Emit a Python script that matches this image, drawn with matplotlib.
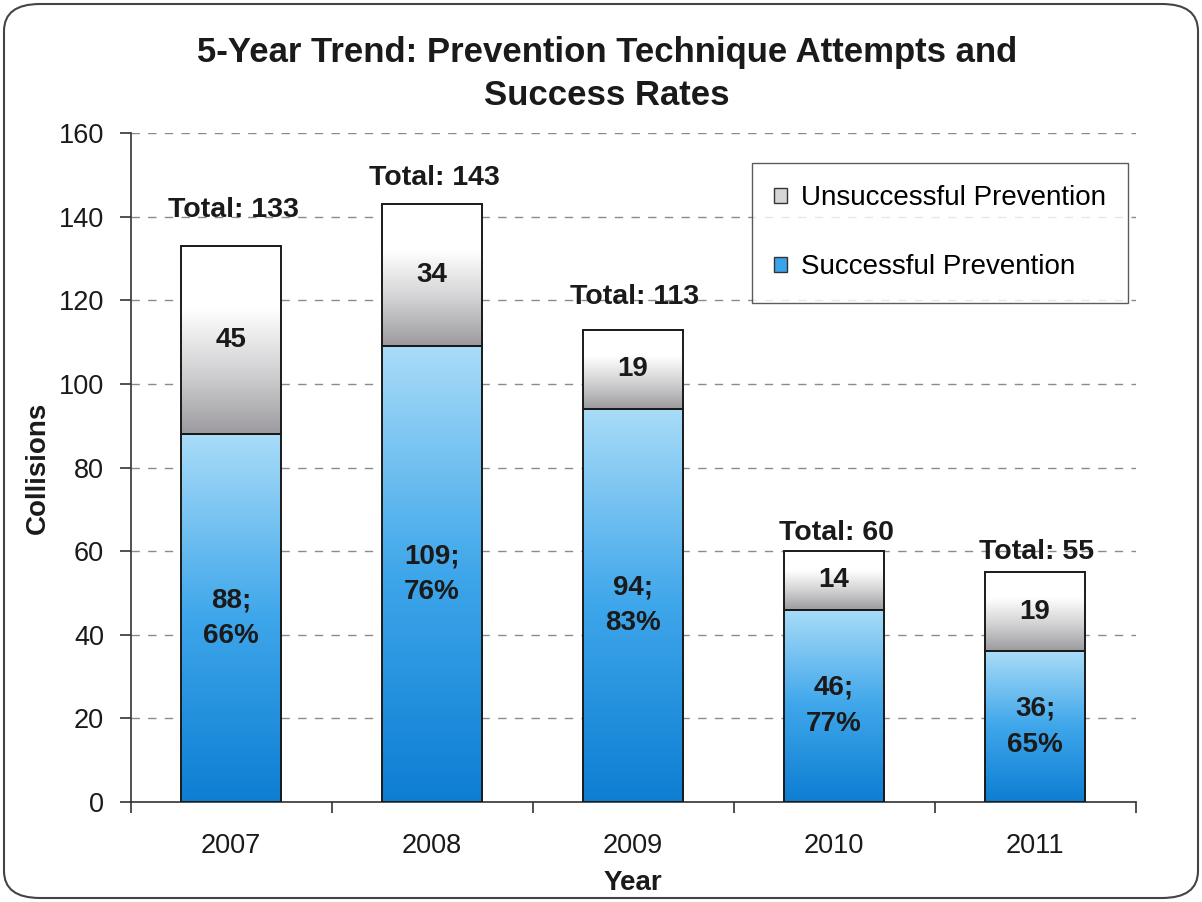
import numpy as np
import matplotlib
matplotlib.use("Agg")
import matplotlib.pyplot as plt
from matplotlib.patches import FancyBboxPatch, Patch
from matplotlib.colors import LinearSegmentedColormap

years = ["2007", "2008", "2009", "2010", "2011"]
successful = [88, 109, 94, 46, 36]
unsuccessful = [45, 34, 19, 14, 19]
success_pct = ["66%", "76%", "83%", "77%", "65%"]
totals = [133, 143, 113, 60, 55]

plt.rcParams['font.family'] = ['Liberation Sans', 'DejaVu Sans']

fig = plt.figure(figsize=(12.02, 9.02), dpi=100)
ax = fig.add_axes([130.5 / 1202, 1 - 802 / 902, 1005 / 1202, 669 / 902])

blue_cmap = LinearSegmentedColormap.from_list("b", ["#0e7ed3", "#3ea6ea", "#a9dcf8"])
gray_cmap = LinearSegmentedColormap.from_list("g", ["#9c9a9e", "#d2d2d4", "#ffffff", "#ffffff"])

x = np.arange(len(years))
width = 0.5
grad = np.linspace(0, 1, 256).reshape(-1, 1)

for i in range(len(years)):
    s = successful[i]
    u = unsuccessful[i]
    x0, x1 = x[i] - width / 2, x[i] + width / 2
    ax.imshow(grad, extent=(x0, x1, 0, s), origin='lower', aspect='auto',
              cmap=blue_cmap, zorder=2, interpolation='bicubic')
    ax.imshow(grad, extent=(x0, x1, s, s + u), origin='lower', aspect='auto',
              cmap=gray_cmap, zorder=2, interpolation='bicubic')

ax.bar(x, successful, width, facecolor='none', edgecolor='#1a1a1a', linewidth=1.4, zorder=3)
ax.bar(x, unsuccessful, width, bottom=successful, facecolor='none', edgecolor='#1a1a1a',
       linewidth=1.4, zorder=3)

ax.set_xlim(-0.5, len(years) - 0.5)
ax.set_ylim(0, 160)

label_font = dict(fontsize=20, fontweight='bold', color='#1a1a1a', ha='center', va='center', zorder=4)
for i in range(len(years)):
    s = successful[i]
    u = unsuccessful[i]
    ax.text(x[i], s / 2, f"{s};\n{success_pct[i]}", linespacing=1.5, **label_font)
    ax.text(x[i], s + u / 2, f"{u}", **label_font)

total_offsets_px = [36, 26, 33, 18, 20]
for i in range(len(years)):
    ax.annotate(f"Total: {totals[i]}", xy=(x[i], totals[i]), xytext=(2, total_offsets_px[i]),
                textcoords='offset pixels', fontsize=20.5, fontweight='bold', color='#1a1a1a',
                ha='center', va='center', zorder=4)

# grid
ax.set_yticks(np.arange(0, 161, 20))
ax.yaxis.grid(True, linestyle=(0, (6, 6)), color='#8a8a8a', linewidth=1.0, zorder=0)
ax.set_axisbelow(True)

ax.set_xticks(x)
ax.set_xticklabels(years)
ax.set_xticks(np.arange(-0.5, len(years), 1), minor=True)
ax.tick_params(axis='x', which='major', length=0, pad=22, labelsize=19.5, colors='#1a1a1a')
ax.tick_params(axis='x', which='minor', length=8, width=1.2, direction='out', color='#333333')
ax.tick_params(axis='y', length=8, width=1.2, direction='out', pad=11, labelsize=19.5,
               colors='#1a1a1a', color='#333333')

for side in ['top', 'right']:
    ax.spines[side].set_visible(False)
for side in ['left', 'bottom']:
    ax.spines[side].set_linewidth(1.2)
    ax.spines[side].set_color('#333333')

ax.set_ylabel("Collisions", fontsize=20, fontweight='bold', labelpad=6, color='#1a1a1a')
ax.set_xlabel("Year", fontsize=20, fontweight='bold', labelpad=8, color='#1a1a1a')

fig.text(0.505, 1 - 74 / 902, "5-Year Trend: Prevention Technique Attempts and\nSuccess Rates",
         ha='center', va='center', fontsize=25, fontweight='bold', linespacing=1.36, color='#1a1a1a')

handles = [Patch(facecolor='#d6d6d8', edgecolor='#333333', linewidth=1.0, label='Unsuccessful Prevention'),
           Patch(facecolor='#3aa4ea', edgecolor='#333333', linewidth=1.0, label='Successful Prevention')]
leg = ax.legend(handles=handles, loc='upper left', bbox_to_anchor=(0.618, 0.955),
                fontsize=20, frameon=True, fancybox=False, edgecolor='#333333',
                handlelength=0.48, handleheight=0.48, handletextpad=0.5, labelspacing=1.55,
                borderpad=0.8, borderaxespad=0.0)
leg.get_frame().set_linewidth(1.0)
leg.set_zorder(5)

border = FancyBboxPatch((4 / 1202, 4 / 902), 1 - 8 / 1202, 1 - 8 / 902,
                        boxstyle="round,pad=0,rounding_size=0.03", transform=fig.transFigure,
                        facecolor='none', edgecolor='#444444', linewidth=1.5)
fig.patches.append(border)

fig.savefig("out.png", dpi=100)
